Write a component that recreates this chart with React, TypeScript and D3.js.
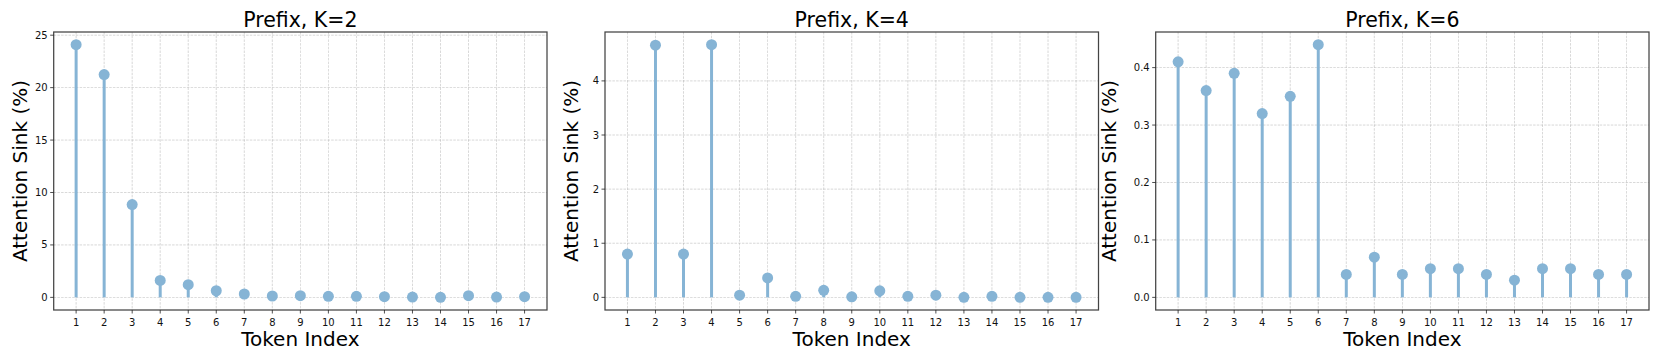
import React from "react";
import * as d3 from "d3";

const tokens = d3.range(1, 18);
const titles = ["Prefix, K=2", "Prefix, K=4", "Prefix, K=6"];
const valuesK2 = [24.1, 21.25, 8.85, 1.62, 1.21, 0.63, 0.32, 0.13, 0.16, 0.1, 0.1, 0.06, 0.03, 0.0, 0.16, 0.03, 0.06];
const valuesK4 = [0.8, 4.66, 0.8, 4.67, 0.04, 0.36, 0.02, 0.13, 0.01, 0.12, 0.02, 0.04, 0.0, 0.02, 0.0, 0.0, 0.0];
const valuesK6 = [0.41, 0.36, 0.39, 0.32, 0.35, 0.44, 0.04, 0.07, 0.04, 0.05, 0.05, 0.04, 0.03, 0.05, 0.05, 0.04, 0.04];
const yTicksK2 = [0, 5, 10, 15, 20, 25];
const yTicksK4 = [0, 1, 2, 3, 4];
const yTicksK6 = [0, 0.1, 0.2, 0.3, 0.4];

const W = 1661;
const H = 361;
const FONT = "DejaVu Sans, sans-serif";
const COLOR = "#86b4d5";

const panels = [
  { title: titles[0], values: valuesK2, ticks: yTicksK2, fmt: (v: number) => String(v), left: 53.7, right: 547, ylab: 27 },
  { title: titles[1], values: valuesK4, ticks: yTicksK4, fmt: (v: number) => String(v), left: 605, right: 1098.5, ylab: 27 },
  { title: titles[2], values: valuesK6, ticks: yTicksK6, fmt: (v: number) => v.toFixed(1), left: 1155.7, right: 1649, ylab: 40 },
];
const TOP = 32;
const BOTTOM = 310;

function Panel({ p }: { p: typeof panels[number] }) {
  const x = d3.scaleLinear().domain([0.2, 17.8]).range([p.left, p.right]);
  const ymax = d3.max(p.values) as number;
  const m = ymax * 0.05;
  const y = d3.scaleLinear().domain([-m, ymax + m]).range([BOTTOM, TOP]);
  const cx = (p.left + p.right) / 2;
  const cy = (TOP + BOTTOM) / 2;
  return (
    <g>
      {tokens.map((t) => (
        <line key={"gx" + t} x1={x(t)} x2={x(t)} y1={TOP} y2={BOTTOM} stroke="#aaa" strokeWidth={0.7} strokeDasharray="2.5,1.2" opacity={0.65} />
      ))}
      {p.ticks.map((t) => (
        <line key={"gy" + t} x1={p.left} x2={p.right} y1={y(t)} y2={y(t)} stroke="#aaa" strokeWidth={0.7} strokeDasharray="2.5,1.2" opacity={0.65} />
      ))}
      {p.values.map((v, i) => (
        <line key={"s" + i} x1={x(tokens[i])} x2={x(tokens[i])} y1={y(0)} y2={y(v)} stroke={COLOR} strokeWidth={3} />
      ))}
      {p.values.map((v, i) => (
        <circle key={"c" + i} cx={x(tokens[i])} cy={y(v)} r={5.5} fill={COLOR} />
      ))}
      <rect x={p.left} y={TOP} width={p.right - p.left} height={BOTTOM - TOP} fill="none" stroke="#444" strokeWidth={1.25} />
      {tokens.map((t) => (
        <g key={"xt" + t}>
          <line x1={x(t)} x2={x(t)} y1={BOTTOM} y2={BOTTOM + 3.5} stroke="#222" strokeWidth={0.8} />
          <text x={x(t)} y={BOTTOM + 15.5} textAnchor="middle" fontFamily={FONT} fontSize={10} fill="#111">{t}</text>
        </g>
      ))}
      {p.ticks.map((t) => (
        <g key={"yt" + t}>
          <line x1={p.left - 3.5} x2={p.left} y1={y(t)} y2={y(t)} stroke="#222" strokeWidth={0.8} />
          <text x={p.left - 6} y={y(t)} dy="0.35em" textAnchor="end" fontFamily={FONT} fontSize={10} fill="#111">{p.fmt(t)}</text>
        </g>
      ))}
      <text x={cx} y={26.5} textAnchor="middle" fontFamily={FONT} fontSize={20.5} fill="#000">{p.title}</text>
      <text x={cx} y={346} textAnchor="middle" fontFamily={FONT} fontSize={20} fill="#000">Token Index</text>
      <text transform={`translate(${p.left - p.ylab},${cy}) rotate(-90)`} textAnchor="middle" fontFamily={FONT} fontSize={20} fill="#000">Attention Sink (%)</text>
    </g>
  );
}

export default function App() {
  return (
    <div style={{ position: "absolute", left: 0, top: 0 }}>
      <svg width={W} height={H} viewBox={`0 0 ${W} ${H}`} style={{ display: "block", background: "#fff" }}>
        {panels.map((p, i) => (
          <Panel key={i} p={p} />
        ))}
      </svg>
    </div>
  );
}
